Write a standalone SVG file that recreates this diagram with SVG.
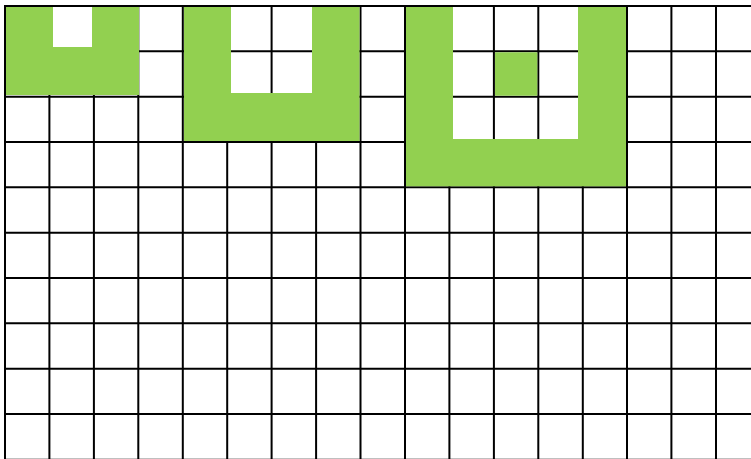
<svg xmlns="http://www.w3.org/2000/svg" width="751" height="459" viewBox="0 0 751 459">
<style>
.g{stroke:#000;stroke-width:2;fill:none}
.f{fill:#92d050;stroke:none}
</style>
<rect width="751" height="459" fill="#fff"/>
<g id="grid" class="g">
<path d="M5,6V461M49.4,6V461M93.9,6V461M138.3,6V461M182.8,6V461M227.2,6V461M271.6,6V461M316.1,6V461M360.5,6V461M405,6V461M449.4,6V461M493.9,6V461M538.3,6V461M582.8,6V461M627,6V461M671.4,6V461M716,6V461"/>
<path d="M4,6H751M4,51.3H751M4,96.7H751M4,142H751M4,187.3H751M4,232.7H751M4,278H751M4,323.3H751M4,368.7H751M4,414H751M4,459.8H751"/>
</g>
<g id="shape1">
<path class="f" fill-rule="evenodd" d="M6,7H139V95H6Z M53,7H92V47H53Z"/>
</g>
<g id="shape2">
<path class="f" fill-rule="evenodd" d="M184,7H359.5V141H184Z M231,7H312V93H231Z"/>
</g>
<g id="shape3">
<rect class="f" x="406" y="7" width="47" height="132"/>
<rect class="f" x="578" y="7" width="48" height="132"/>
<rect class="f" x="406" y="139" width="220" height="47.3"/>
<rect class="f" x="495" y="52.3" width="42.3" height="43.4"/>
</g>
</svg>
